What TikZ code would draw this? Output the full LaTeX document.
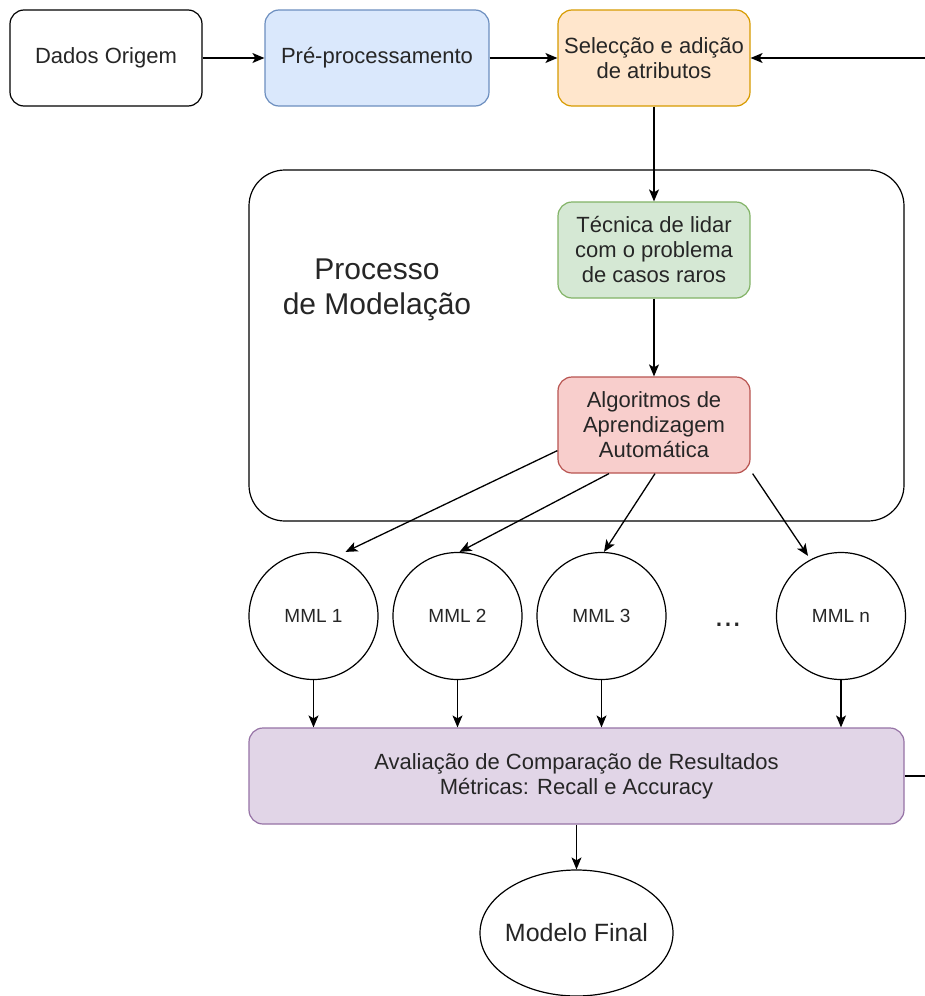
\documentclass[tikz,border=0pt]{standalone}
\usepackage{fontspec}
\setmainfont{Liberation Sans}
\usetikzlibrary{arrows.meta,shapes.geometric}
\definecolor{bluefill}{HTML}{DAE8FC}
\definecolor{bluedraw}{HTML}{6C8EBF}
\definecolor{orangefill}{HTML}{FFE6CC}
\definecolor{orangedraw}{HTML}{D79B00}
\definecolor{greenfill}{HTML}{D5E8D4}
\definecolor{greendraw}{HTML}{82B366}
\definecolor{redfill}{HTML}{F8CECC}
\definecolor{reddraw}{HTML}{B85450}
\definecolor{purplefill}{HTML}{E1D5E7}
\definecolor{purpledraw}{HTML}{9673A6}
\definecolor{txt}{HTML}{262626}
\begin{document}
\begin{tikzpicture}[x=1pt,y=-1pt,
  box/.style={draw, rounded corners=14pt, minimum width=192pt, minimum height=96pt,
    inner sep=0pt, align=center, text=txt, font=\fontsize{22}{25}\selectfont, line width=1.2pt},
  arr/.style={-{Stealth[length=12pt,width=10pt,inset=3pt]}, line width=1.3pt},
  mml/.style={draw, ellipse, minimum width=129pt, minimum height=127pt, inner sep=0pt,
    text=txt, font=\fontsize{19}{21}\selectfont, line width=1.2pt}]
\clip (0,0) rectangle (925,996);
\fill[white] (0,0) rectangle (925,996);

% container
\node[draw, rounded corners=36pt, minimum width=655pt, minimum height=351pt, line width=1.2pt, fill=white]
  (proc) at (576.5,345.5) {};
\node[align=center, text=txt, font=\fontsize{30}{35}\selectfont] (proclabel) at (377,290)
  {Processo\\de Modelação};

% top row
\node[box] (dados) at (106,58) {Dados Origem};
\node[box, minimum width=224pt, fill=bluefill, draw=bluedraw] (pre) at (377,58) {Pré-processamento};
\node[box, fill=orangefill, draw=orangedraw] (sel) at (654,58) {Selecção e adição\\de atributos};

% inside container
\node[box, fill=greenfill, draw=greendraw] (tec) at (654,250) {Técnica de lidar\\com o problema\\de casos raros};
\node[box, fill=redfill, draw=reddraw] (alg) at (654,425) {Algoritmos de\\Aprendizagem\\Automática};

% models
\node[mml] (m1) at (313.5,616) {\makebox[0pt]{MML 1}};
\node[mml] (m2) at (457.5,616) {\makebox[0pt]{MML 2}};
\node[mml] (m3) at (601.5,616) {\makebox[0pt]{MML 3}};
\node[mml] (mn) at (841,616) {\makebox[0pt]{MML n}};
\node[text=txt, font=\fontsize{32}{34}\selectfont] (dots) at (728,625) {...};

% evaluation
\node[box, minimum width=655pt, rounded corners=14pt, fill=purplefill, draw=purpledraw] (eval) at (576.5,776)
  {Avaliação de Comparação de Resultados\\Métricas: Recall e Accuracy};
\node[draw, ellipse, minimum width=193pt, minimum height=126pt, inner sep=0pt, line width=1.2pt,
  text=txt, font=\fontsize{25}{28}\selectfont] (final) at (576.5,933) {\makebox[0pt]{Modelo Final}};

% connectors
\draw[arr] (dados) -- (pre);
\draw[arr] (pre) -- (sel);
\draw[arr] (sel) -- (tec);
\draw[arr] (tec) -- (alg);
\draw[arr] ([yshift=23pt]alg.south west) -- ([xshift=32pt]m1.north);
\draw[arr] ([xshift=-45pt]alg.south) -- ([xshift=2pt]m2.north);
\draw[arr] ([xshift=1pt]alg.south) -- ([xshift=2.5pt]m3.north);
\draw[arr] ([xshift=2pt]alg.south east) -- ([xshift=-33pt,yshift=-4pt]mn.north);
\draw[arr] (m1.south) -- (m1.south |- eval.north);
\draw[arr] (m2.south) -- (m2.south |- eval.north);
\draw[arr] (m3.south) -- (m3.south |- eval.north);
\draw[arr] (mn.south) -- (mn.south |- eval.north);
\draw[arr] (eval) -- (final);
\draw[arr] (eval.east) -- ++(40,0) |- (sel.east);
\end{tikzpicture}
\end{document}
